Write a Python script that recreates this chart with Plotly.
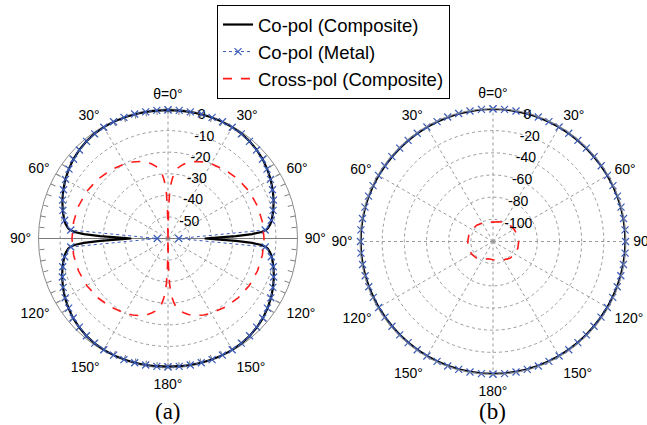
import plotly.graph_objects as go

# ---------------- (a) pattern, dB, theta measured from the top (0..180 per side) ----------------
theta_a_comp = [0, 5, 10, 15, 20, 25, 30, 35, 40, 45, 50, 55, 60, 65, 70, 75, 80, 82, 84, 85, 86, 87, 88, 89, 90,
                91, 92, 93, 94, 95, 96, 98, 100, 105, 110, 115, 120, 125, 130, 135, 140, 145, 150, 155, 160,
                165, 170, 175, 180]
copol_a_comp = [-0.5, -0.5, -0.4, -0.4, -0.3, -0.3, -0.4, -0.7, -1.2, -1.9, -2.8, -3.9, -5.1, -6.5, -7.9, -9.5,
                -11.2, -12.1, -13.4, -14.4, -16.5, -21.0, -28.5, -37.5, -43.0,
                -37.5, -28.5, -21.0, -16.5, -14.4, -13.4, -12.1, -11.2, -9.4, -7.8, -6.3, -4.9, -3.7, -2.6, -1.8,
                -1.1, -0.7, -0.4, -0.3, -0.3, -0.4, -0.5, -0.6, -0.6]

theta_a_metal = [0, 5, 10, 15, 20, 25, 30, 35, 40, 45, 50, 55, 60, 65, 70, 75, 80, 85, 90,
                 95, 100, 105, 110, 115, 120, 125, 130, 135, 140, 145, 150, 155, 160, 165, 170, 175, 180]
copol_a_metal = [-0.4, -0.4, -0.4, -0.3, -0.3, -0.3, -0.5, -0.8, -1.3, -2.0, -2.9, -4.0, -5.2, -6.6, -8.0, -9.6,
                 -11.4, -14.8, -55.0,
                 -14.8, -11.4, -9.5, -7.9, -6.4, -5.0, -3.8, -2.7, -1.9, -1.2, -0.8, -0.5, -0.4, -0.3, -0.4,
                 -0.5, -0.5, -0.5]

theta_a_xpol = [0, 1, 2, 3, 4, 5, 6, 8, 10, 12, 15, 20, 25, 30, 40, 50, 60, 70, 80, 90,
                100, 110, 120, 130, 140, 150, 155, 160, 165, 168, 170, 172, 174, 175, 176, 177, 178, 179, 180]
xpol_a = [-60.0, -47.0, -39.0, -35.0, -32.5, -30.5, -29.0, -27.0, -25.8, -24.8, -23.5, -22.0, -20.9, -20.0,
          -18.6, -17.4, -16.5, -15.9, -15.6, -15.5,
          -15.6, -15.9, -16.5, -17.4, -18.6, -20.0, -20.9, -22.0, -23.5, -24.8, -25.8, -27.0, -29.0, -30.5,
          -32.5, -35.0, -39.0, -47.0, -60.0]

# ---------------- (b) pattern ----------------
theta_b = [0, 5, 10, 15, 20, 25, 30, 35, 40, 45, 50, 55, 60, 65, 70, 75, 80, 85, 90,
           95, 100, 105, 110, 115, 120, 125, 130, 135, 140, 145, 150, 155, 160, 165, 170, 175, 180]
copol_b_comp = [-0.4, -0.4, -0.5, -0.5, -0.6, -0.7, -0.8, -0.9, -1.0, -1.0, -1.0, -0.9, -0.8, -0.7, -0.6,
                -0.5, -0.5, -0.5, -0.5, -0.5, -0.6, -0.7, -0.8, -0.9, -1.0, -1.1, -1.1, -1.0, -1.0, -0.9,
                -0.8, -0.7, -0.6, -0.6, -0.5, -0.5, -0.5]
copol_b_metal = [-0.3, -0.3, -0.4, -0.4, -0.5, -0.6, -0.7, -0.8, -0.9, -0.9, -0.9, -0.8, -0.7, -0.6, -0.5,
                 -0.4, -0.4, -0.4, -0.4, -0.4, -0.5, -0.6, -0.7, -0.8, -0.9, -1.0, -1.0, -0.9, -0.9, -0.8,
                 -0.7, -0.6, -0.5, -0.5, -0.4, -0.4, -0.4]

theta_b_xpol = [0, 15, 30, 45, 60, 75, 90, 105, 120, 135, 150, 165, 180, 195, 210, 225, 240, 255, 270, 285,
                300, 315, 330, 345, 360]
xpol_b = [-102.5, -101.5, -100.0, -98.8, -98.0, -97.2, -96.8, -96.8, -97.3, -98.5, -101.0, -102.5, -103.5,
          -103.8, -101.5, -98.8, -97.6, -97.2, -97.2, -97.5, -98.2, -99.2, -100.8, -102.0, -102.5]

# tick labels
ang_vals = [0, 30, 60, 90, 120, 150, 180, 210, 240, 270, 300, 330]
ang_text = ["θ=0°", "30°", "60°", "90°", "120°", "150°", "180°", "150°", "120°", "90°", "60°", "30°"]
rad_vals_a = [-50, -40, -30, -20, -10, 0]
rad_text_a = ["-50", "-40", "-30", "-20", "-10", "0"]
rad_vals_b = [-100, -80, -60, -40, -20, 0]
rad_text_b = ["-100", "-80", "-60", "-40", "-20", "0"]
rim_ticks = [5 * k for k in range(72)]


def both_sides(theta, vals):
    """Plot 0..180 on the right half and the same data mirrored on the left half."""
    return theta + [360 - t for t in theta[::-1]], vals + vals[::-1]


BLACK = "black"
BLUE = "#3a5bb8"
RED = "#ff1a1a"
GRID = "#9a9a9a"
FONT = "Liberation Sans, Arial, sans-serif"

fig = go.Figure()

# empty traces so the grid-only and rim-tick subplots get rendered
for sp in ("polar", "polar2"):
    fig.add_trace(go.Scatterpolar(r=[], theta=[], mode="lines", showlegend=False,
                                  hoverinfo="skip", subplot=sp))

th, rr = both_sides(theta_a_comp, copol_a_comp)
fig.add_trace(go.Scatterpolar(theta=th, r=rr, mode="lines", name="Co-pol (Composite)",
                              line=dict(color=BLACK, width=2.2), subplot="polar3"))
th, rr = both_sides(theta_a_metal, copol_a_metal)
fig.add_trace(go.Scatterpolar(theta=th, r=rr, mode="lines+markers", name="Co-pol (Metal)",
                              line=dict(color=BLUE, width=1, dash="dot"),
                              marker=dict(symbol="x-thin", size=7, line=dict(color=BLUE, width=1.2)),
                              subplot="polar3"))
th, rr = both_sides(theta_a_xpol, xpol_a)
fig.add_trace(go.Scatterpolar(theta=th, r=rr, mode="lines", name="Cross-pol (Composite)",
                              line=dict(color=RED, width=1.6, dash="dash"), subplot="polar3"))

th, rr = both_sides(theta_b, copol_b_comp)
fig.add_trace(go.Scatterpolar(theta=th, r=rr, mode="lines", showlegend=False,
                              line=dict(color=BLACK, width=2.2), subplot="polar4"))
th, rr = both_sides(theta_b, copol_b_metal)
fig.add_trace(go.Scatterpolar(theta=th, r=rr, mode="lines+markers", showlegend=False,
                              line=dict(color=BLUE, width=1, dash="dot"),
                              marker=dict(symbol="x-thin", size=7, line=dict(color=BLUE, width=1.2)),
                              subplot="polar4"))
fig.add_trace(go.Scatterpolar(theta=theta_b_xpol, r=xpol_b, mode="lines", showlegend=False,
                              line=dict(color=RED, width=1.6, dash="dash"), subplot="polar4"))

W, H = 647, 425


def dom(cx, cy, rad):
    return dict(x=[(cx - rad) / W, (cx + rad) / W], y=[(H - cy - rad) / H, (H - cy + rad) / H])


dom_a = dom(168, 238.5, 129.5)
dom_b = dom(493, 241.5, 133)

tickfont = dict(family=FONT, size=14, color="black")


def grid_polar(domain, rng, rvals, rtext):
    return dict(
        domain=domain, bgcolor="white",
        radialaxis=dict(range=rng, tickvals=rvals, ticktext=rtext, angle=80, tickangle=80,
                        showline=False, ticks="",
                        gridcolor=GRID, griddash="dot", gridwidth=1, tickfont=tickfont),
        angularaxis=dict(rotation=90, direction="clockwise", tickvals=ang_vals, ticktext=ang_text,
                         showline=True, linecolor="#8c8c8c", linewidth=1,
                         ticks="outside", ticklen=4, tickcolor="rgba(0,0,0,0)",
                         gridcolor=GRID, griddash="dot", gridwidth=1, tickfont=tickfont),
    )


fig.update_layout(
    width=W, height=H, margin=dict(l=0, r=0, t=0, b=0),
    paper_bgcolor="white",
    polar=grid_polar(dom_a, [-60, 0], rad_vals_a, rad_text_a),
    polar2=dict(
        domain=dom_a, bgcolor="rgba(0,0,0,0)",
        radialaxis=dict(range=[-60, 0], visible=False),
        angularaxis=dict(rotation=90, direction="clockwise", tickvals=rim_ticks, ticks="inside",
                         ticklen=5, tickcolor="#808080", tickwidth=1, showticklabels=False,
                         showgrid=False, showline=False),
    ),
    polar3=dict(
        domain=dom_a, bgcolor="rgba(0,0,0,0)",
        radialaxis=dict(range=[-60, 0], visible=False),
        angularaxis=dict(rotation=90, direction="clockwise", tickvals=[90, 270], ticks="",
                         showticklabels=False, showgrid=True, gridcolor="#7a7a7a", gridwidth=1,
                         showline=False),
    ),
    polar4=grid_polar(dom_b, [-120, 0], rad_vals_b, rad_text_b),
    legend=dict(x=217 / W, y=1 - 5 / H, xanchor="left", yanchor="top",
                bgcolor="white", bordercolor="black", borderwidth=1, itemwidth=30,
                font=dict(family=FONT, size=18.5, color="black"), tracegroupgap=0),
    annotations=[
        dict(text="(a)", x=168 / W, y=(H - 411) / H, xref="paper", yref="paper", showarrow=False,
             xanchor="center", yanchor="middle",
             font=dict(family="Liberation Serif, Times New Roman, serif", size=23, color="black")),
        dict(text="(b)", x=492 / W, y=(H - 411) / H, xref="paper", yref="paper", showarrow=False,
             xanchor="center", yanchor="middle",
             font=dict(family="Liberation Serif, Times New Roman, serif", size=23, color="black")),
    ],
)

fig.write_html("out.html")
